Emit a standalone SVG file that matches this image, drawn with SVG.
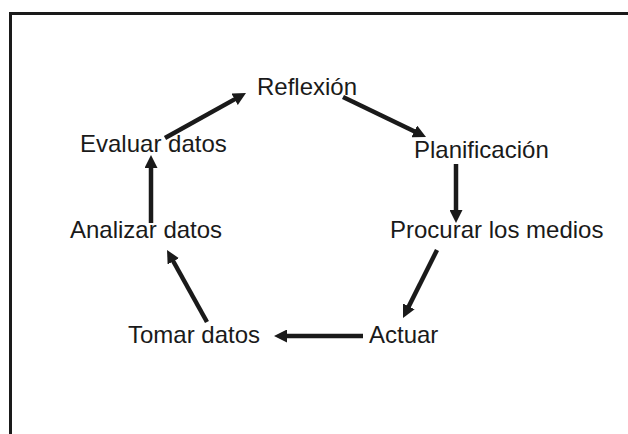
<svg xmlns="http://www.w3.org/2000/svg" width="628" height="434" viewBox="0 0 628 434">
<style>
.lbl{font-family:"Liberation Sans",Arial,sans-serif;font-size:24px;fill:#1a1a1a}
.con{stroke:#1a1a1a;stroke-width:4.5;fill:none;marker-end:url(#ah)}
</style>
<defs>
<marker id="ah" markerUnits="userSpaceOnUse" markerWidth="14" markerHeight="13" refX="5" refY="6.5" orient="auto">
<path d="M0,0 L13,6.5 L0,13 z" fill="#1a1a1a"/>
</marker>
</defs>
<rect x="10.5" y="13.5" width="640" height="440" fill="#ffffff" stroke="#1a1a1a" stroke-width="3"/>
<g id="connectors">
<path class="con" d="M165,138 L239,96.9"/>
<path class="con" d="M343,97 L418.8,133.5"/>
<path class="con" d="M456,164 L456,215"/>
<path class="con" d="M437,250 L406.6,310.8"/>
<path class="con" d="M363,336 L282,336"/>
<path class="con" d="M207,322 L170.9,257"/>
<path class="con" d="M151,223 L151,163"/>
</g>
<g id="reflexion"><text class="lbl" x="257" y="95">Reflexión</text></g>
<g id="planificacion"><text class="lbl" x="414" y="158">Planificación</text></g>
<g id="procurar"><text class="lbl" x="390" y="238">Procurar los medios</text></g>
<g id="actuar"><text class="lbl" x="369" y="343">Actuar</text></g>
<g id="tomar"><text class="lbl" x="128" y="343">Tomar datos</text></g>
<g id="analizar"><text class="lbl" x="70" y="238">Analizar datos</text></g>
<g id="evaluar"><text class="lbl" x="80" y="152">Evaluar datos</text></g>
</svg>
